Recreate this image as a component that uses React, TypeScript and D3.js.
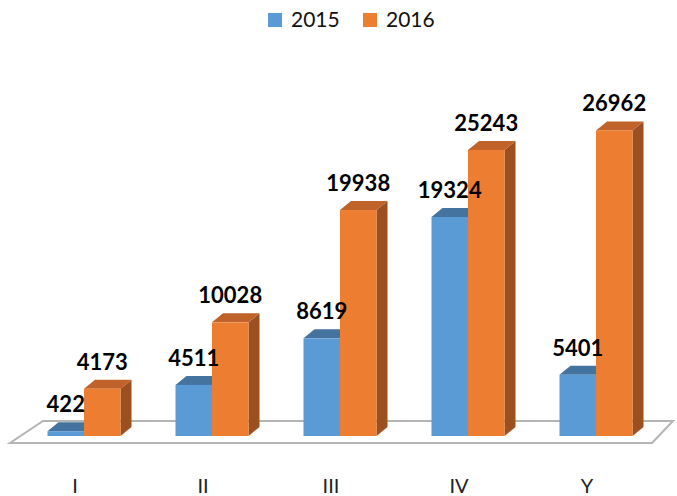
import React, { useEffect, useRef } from 'react';
import * as d3 from 'd3';

const categories = ['I', 'II', 'III', 'IV', 'Y'];
const seriesNames = ['2015', '2016'];
const values2015 = [422, 4511, 8619, 19324, 5401];
const values2016 = [4173, 10028, 19938, 25243, 26962];

const colors = {
  '2015': { front: '#5b9bd5', top: '#44739f', side: '#3f6b94' },
  '2016': { front: '#ed7d31', top: '#c0632a', side: '#9c4f1f' },
};

const App = () => {
  const ref = useRef(null);

  useEffect(() => {
    if (!ref.current) return;
    const svg = d3.select(ref.current);
    svg.selectAll('*').remove();

    const W = 677, H = 496;
    const depthX = 11, depthY = 9;
    const font = 'Lato, "Open Sans", sans-serif';

    const x0 = d3.scaleBand().domain(categories).range([20, 660]);
    const barW = 36.5;
    const x1 = d3.scaleBand().domain(seriesNames)
      .range([x0.bandwidth() / 2 - barW, x0.bandwidth() / 2 + barW]);
    const y = d3.scaleLinear().domain([0, 30000]).range([436, 96]);

    // floor
    const fy = y(0);
    svg.append('polygon')
      .attr('points', [
        [10, fy + 7], [652, fy + 7], [673, fy - 15], [43, fy - 15]
      ].map(p => p.join(',')).join(' '))
      .attr('fill', '#fff')
      .attr('stroke', '#b4b4b4')
      .attr('stroke-width', 2);

    const rows = categories.map((c, i) => ({
      cat: c,
      bars: [
        { s: '2015', v: values2015[i] },
        { s: '2016', v: values2016[i] },
      ],
    }));

    const g = svg.append('g');
    rows.forEach(row => {
      row.bars.forEach(b => {
        const xl = (x0(row.cat) as number) + (x1(b.s) as number);
        const xr = xl + x1.bandwidth();
        const yt = y(b.v);
        const yb = y(0);
        const col = (colors as any)[b.s];
        const bar = g.append('g');
        bar.append('polygon')
          .attr('points', `${xr},${yt} ${xr + depthX},${yt - depthY} ${xr + depthX},${yb - depthY} ${xr},${yb}`)
          .attr('fill', col.side);
        bar.append('polygon')
          .attr('points', `${xl},${yt} ${xl + depthX},${yt - depthY} ${xr + depthX},${yt - depthY} ${xr},${yt}`)
          .attr('fill', col.top);
        bar.append('rect')
          .attr('x', xl)
          .attr('y', yt)
          .attr('width', xr - xl)
          .attr('height', yb - yt)
          .attr('fill', col.front);
      });
    });

    // value labels
    rows.forEach(row => {
      row.bars.forEach(b => {
        const xc = (x0(row.cat) as number) + (x1(b.s) as number) + x1.bandwidth() / 2;
        svg.append('text')
          .attr('x', xc)
          .attr('y', y(b.v) - 19)
          .attr('text-anchor', 'middle')
          .attr('font-family', font)
          .attr('font-weight', 'bold')
          .attr('font-size', 22)
          .attr('fill', '#000')
          .text(b.v);
      });
    });

    // category labels
    svg.append('g')
      .selectAll('text')
      .data(categories)
      .enter().append('text')
      .attr('x', d => (x0(d) as number) + x0.bandwidth() / 2 - 9)
      .attr('y', 493)
      .attr('text-anchor', 'middle')
      .attr('font-family', font)
      .attr('font-size', 20)
      .attr('fill', '#222')
      .text(d => d);

    // legend
    const legend = svg.append('g');
    const legendX = [268, 363];
    seriesNames.forEach((s, i) => {
      legend.append('rect')
        .attr('x', legendX[i])
        .attr('y', 13)
        .attr('width', 14)
        .attr('height', 14)
        .attr('fill', (colors as any)[s].front);
      legend.append('text')
        .attr('x', legendX[i] + 23)
        .attr('y', 27)
        .attr('font-family', font)
        .attr('font-size', 21)
        .attr('fill', '#111')
        .text(s);
    });

    svg.attr('width', W).attr('height', H);
  }, []);

  return (
    <svg
      ref={ref}
      width={677}
      height={496}
      style={{ position: 'absolute', left: 0, top: 0, background: '#fff' }}
    />
  );
};

export default App;
